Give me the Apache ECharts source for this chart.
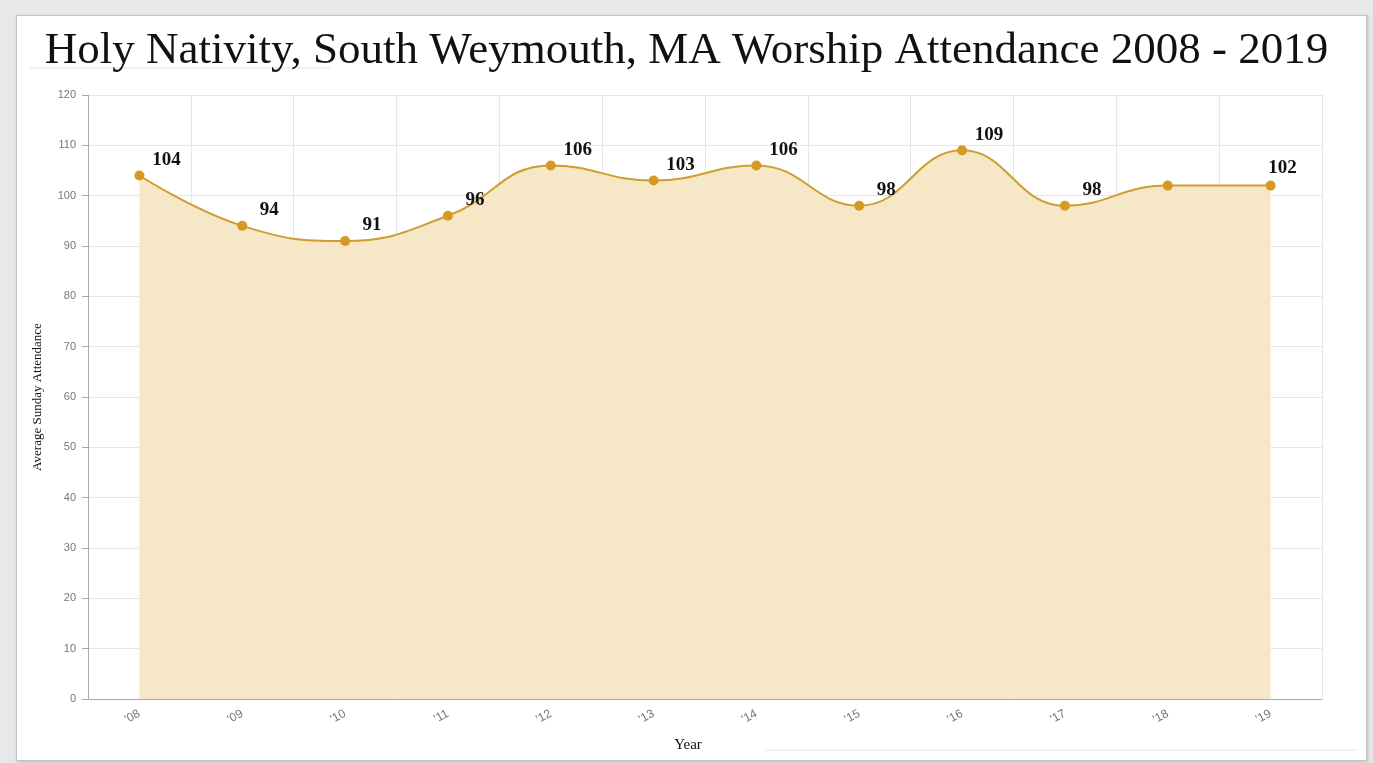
<!DOCTYPE html>
<html>
<head>
<meta charset="utf-8">
<script src="https://cdn.jsdelivr.net/npm/echarts@6/dist/echarts.min.js"></script>
<style>
  html, body { margin: 0; padding: 0; background: #e8e8e8; }
  .frame {
    position: absolute; left: 16px; top: 15px; width: 1349px; height: 744px;
    background: #fff; border: 1px solid #c4c4c4; box-shadow: 1px 1px 3px #bbb;
  }
  #chart { position: absolute; left: 0; top: 0; width: 1373px; height: 763px; }
</style>
</head>
<body>
<div class="frame"></div>
<div id="chart"></div>
<script>
// 年份
var years = ["'08", "'09", "'10", "'11", "'12", "'13", "'14", "'15", "'16", "'17", "'18", "'19"]
// 平均主日出席人数
var attendance = [104, 94, 91, 96, 106, 103, 106, 98, 109, 98, 102, 102]
// 没有数值标签的点
var hideLabel = ["'18"]

var myChart = echarts.init(document.getElementById('chart'))
var seriesData = attendance.map(function (v, i) {
  var item = { value: v }
  if (hideLabel.indexOf(years[i]) > -1) item.label = { show: false }
  // 最后一个标签往左靠
  if (i === attendance.length - 1) item.label = { offset: [12, 2] }
  return item
})

myChart.setOption({
  title: {
    text: 'Holy Nativity, South Weymouth, MA Worship Attendance 2008 - 2019',
    left: 'center',
    top: 24,
    textStyle: {
      fontFamily: 'Liberation Serif',
      fontWeight: 'normal',
      fontSize: 45,
      color: '#111'
    }
  },
  graphic: [
    {
      type: 'line',
      shape: { x1: 30, y1: 68, x2: 330, y2: 68 },
      style: { stroke: '#e4e4e4', lineWidth: 1 }
    },
    {
      type: 'line',
      shape: { x1: 765, y1: 750, x2: 1356, y2: 750 },
      style: { stroke: '#e4e4e4', lineWidth: 1 }
    }
  ],
  grid: {
    left: 88,
    right: 51,
    top: 95,
    bottom: 64
  },
  xAxis: {
    type: 'category',
    data: years,
    boundaryGap: true,
    name: 'Year',
    nameLocation: 'middle',
    nameGap: 39,
    nameTextStyle: { fontFamily: 'Liberation Serif', fontSize: 15, color: '#111', padding: [0, 34, 0, 0] },
    axisLine: { lineStyle: { color: '#aaa' } },
    axisTick: { alignWithLabel: true, length: 6, lineStyle: { color: '#aaa' } },
    axisLabel: { rotate: 28, color: '#777', fontSize: 12, margin: 14 },
    splitLine: { show: true, lineStyle: { color: '#e6e6e6' } }
  },
  yAxis: {
    type: 'value',
    min: 0,
    max: 120,
    interval: 10,
    name: 'Average Sunday Attendance',
    nameLocation: 'middle',
    nameGap: 44,
    nameTextStyle: { fontFamily: 'Liberation Serif', fontSize: 13, color: '#111' },
    axisLine: { show: true, lineStyle: { color: '#aaa' } },
    axisTick: { show: true, length: 6, lineStyle: { color: '#aaa' } },
    axisLabel: { color: '#777', fontSize: 11, margin: 12 },
    splitLine: { lineStyle: { color: '#e6e6e6' } }
  },
  series: [
    {
      type: 'line',
      data: seriesData,
      smooth: 0.45,
      symbol: 'circle',
      symbolSize: 10,
      itemStyle: { color: '#d69a22' },
      lineStyle: { color: '#cf9d30', width: 2 },
      areaStyle: { color: '#f6e7c6', opacity: 1 },
      label: {
        show: true,
        position: 'top',
        offset: [27, 4],
        fontFamily: 'Liberation Serif',
        fontWeight: 'bold',
        fontSize: 19,
        color: '#111'
      },
      z: 3
    }
  ]
})
</script>
</body>
</html>
